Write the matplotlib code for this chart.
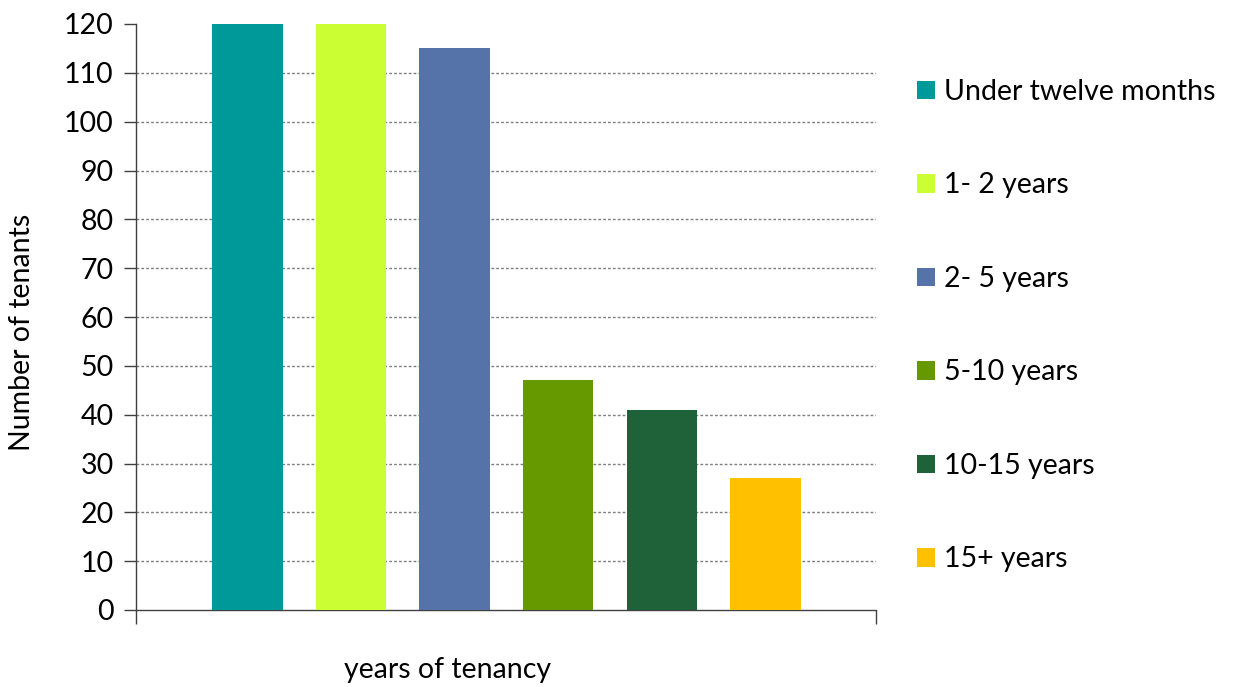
import matplotlib
matplotlib.use("Agg")
import matplotlib.pyplot as plt
from matplotlib.patches import Patch

# --- data ------------------------------------------------------------------------------------ #
CATEGORIES = ["Under twelve months", "1- 2 years", "2- 5 years", "5-10 years", "10-15 years", "15+ years"]
TENANTS = [120, 120, 115, 47, 41, 27]
COLORS = ["#009999", "#CCFF33", "#5573A9", "#669900", "#1F6239", "#FFC000"]
Y_TICKS = list(range(0, 121, 10))

plt.rcParams["font.family"] = ["Lato", "DejaVu Sans"]
FS = 20.5

fig = plt.figure(figsize=(12.43, 6.87), dpi=100)
ax = fig.add_axes([136 / 1243, 1 - 610 / 687, 740 / 1243, 586 / 687])

pos = list(range(len(CATEGORIES)))
ax.bar(pos, TENANTS, width=0.68, color=COLORS, zorder=3)

ax.set_xlim(-1.076, 6.067)
ax.set_ylim(0, 120)
ax.set_yticks(Y_TICKS)
ax.set_xticks([-1.076, 6.067])
ax.set_xticklabels([])
ax.tick_params(axis="y", labelsize=FS, length=9, width=1, color="#404040", pad=7)
ax.tick_params(axis="x", length=10, width=1, color="#404040")

for y in Y_TICKS[1:-1]:
    ax.axhline(y, color="#7f7f7f", lw=1, ls=(0, (2, 1.5)), zorder=1)

for side in ("top", "right"):
    ax.spines[side].set_visible(False)
for side in ("left", "bottom"):
    ax.spines[side].set_color("#404040")
    ax.spines[side].set_linewidth(1)

fig.text(22 / 1243, 1 - 332 / 687, "Number of tenants", rotation=90, ha="center", va="center", fontsize=FS)
fig.text(448 / 1243, 1 - 670 / 687, "years of tenancy", ha="center", va="center", fontsize=FS)

handles = [Patch(facecolor=c, edgecolor="none") for c in COLORS]
fig.legend(handles, CATEGORIES, loc="upper left", bbox_to_anchor=(917 / 1243, 1 - 79 / 687),
           frameon=False, fontsize=FS, handlelength=0.63, handleheight=0.63, handletextpad=0.32,
           labelspacing=2.37, borderaxespad=0, borderpad=0)

fig.savefig("out.png", dpi=100)
